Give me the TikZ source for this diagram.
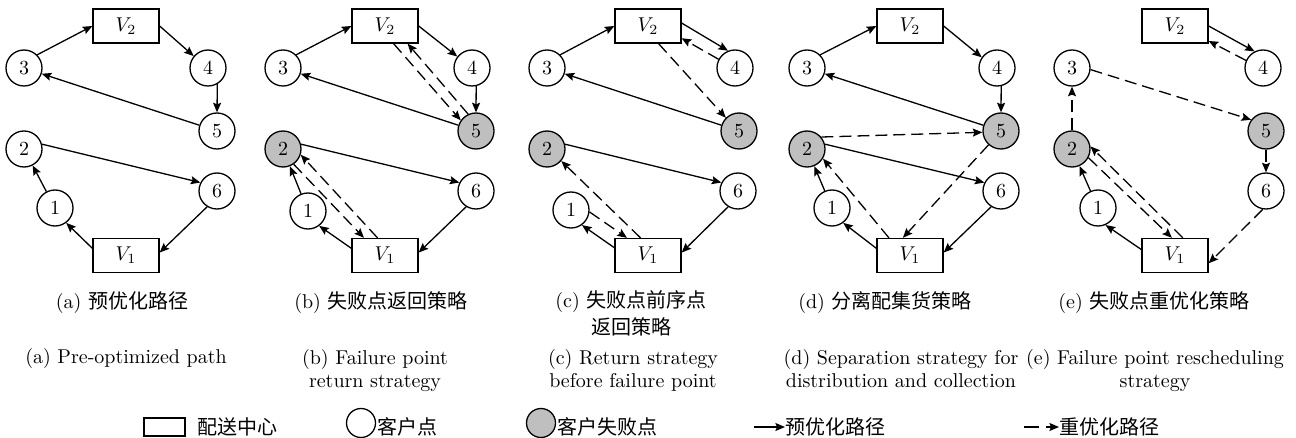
\documentclass[tikz,border=0pt]{standalone}
\usepackage{fontspec}
\newfontfamily\cjkfont{Noto Sans CJK SC}
\newcommand{\zhtext}[1]{{\cjkfont #1}}
\usetikzlibrary{arrows.meta}

\tikzset{
  site/.style={circle, draw, line width=0.65pt, minimum size=18pt, inner sep=0pt,
    fill=white, font=\fontsize{10}{12}\selectfont},
  failed/.style={site, fill=black!25},
  depot/.style={rectangle, draw, line width=0.65pt, minimum width=33pt,
    minimum height=17pt, inner sep=0pt, fill=white},
  pre/.style={line width=0.65pt, -{Stealth[length=4.8pt,width=4pt,inset=0.8pt]}},
  re/.style={pre, dash pattern=on 6pt off 3pt},
  legre/.style={pre, dash pattern=on 7.5pt off 3.5pt},
  capzh/.style={align=center, anchor=base, inner sep=0pt, font=\fontsize{10}{13.5}\selectfont},
  capen/.style={align=center, anchor=base, inner sep=0pt, font=\fontsize{10}{11.5}\selectfont},
  legtext/.style={anchor=west, inner sep=0pt, font=\fontsize{10}{12}\selectfont\cjkfont},
}

\begin{document}
\begin{tikzpicture}[x=0.5pt,y=-0.5pt]
\useasboundingbox (0,0) rectangle (1296,438);

% ---------- (a) pre-optimised route ----------
\begin{scope}[shift={(126,0)}]
  \node[depot] (aV2) at (0,26) {$V_2$};
  \node[depot] (aV1) at (0,255.5) {$V_1$};
  \node[site] (a3) at (-102,68) {3};
  \node[site] (a4) at (82,68) {4};
  \node[site] (a5) at (91,131) {5};
  \node[site] (a2) at (-102,149) {2};
  \node[site] (a6) at (91,191) {6};
  \node[site] (a1) at (-71,208) {1};
  \draw[pre] (a3.45) -- (aV2.west);
  \draw[pre] (aV2.east) -- (a4.140);
  \draw[pre] (a4.-60) -- (a5.north);
  \draw[pre] (a5) -- (a3);
  \draw[pre] (a2.15) -- (a6.153);
  \draw[pre] (a6.-122) -- (aV1.5);
  \draw[pre] (aV1.168) -- (a1.-53);
  \draw[pre] (a1) -- (a2);
\end{scope}

% ---------- (b) return from the failure point ----------
\begin{scope}[shift={(385,0)}]
  \node[depot] (bV2) at (0,26) {$V_2$};
  \node[depot] (bV1) at (0,255.5) {$V_1$};
  \node[site] (b3) at (-102,68) {3};
  \node[site] (b4) at (87,68) {4};
  \node[failed] (b5) at (91,131) {5};
  \node[failed] (b2) at (-102,149) {2};
  \node[site] (b6) at (91,191) {6};
  \node[site] (b1) at (-77,211) {1};
  \draw[pre] (b3.45) -- (bV2.west);
  \draw[pre] (bV2.east) -- (b4.142);
  \draw[pre] (b4.-77) -- (b5.north);
  \draw[pre] (b5) -- (b3);
  \draw[pre] (b2.15) -- (b6.153);
  \draw[pre] (b6.-122) -- (bV1.5);
  \draw[pre] (bV1.168) -- (b1.-53);
  \draw[pre] (b1) -- (b2);
  \draw[re] (bV2.-64) -- (b5.145);
  \draw[re] (b5.115) -- (bV2.-38);
  \draw[re] (b2.-55) -- (bV1.140);
  \draw[re] (bV1.113) -- (b2.-18);
\end{scope}

% ---------- (c) return from the point before the failure ----------
\begin{scope}[shift={(648,0)}]
  \node[depot] (cV2) at (0,26) {$V_2$};
  \node[depot] (cV1) at (0,255.5) {$V_1$};
  \node[site] (c3) at (-101,68) {3};
  \node[site] (c4) at (87,68) {4};
  \node[failed] (c5) at (91,131) {5};
  \node[failed] (c2) at (-101,149) {2};
  \node[site] (c6) at (90,191) {6};
  \node[site] (c1) at (-77,210) {1};
  \draw[pre] (c3.45) -- (cV2.west);
  \draw[pre] (cV2.5) -- (c4.112);
  \draw[pre] (c5) -- (c3);
  \draw[pre] (c2.15) -- (c6.153);
  \draw[pre] (c6.-122) -- (cV1.5);
  \draw[pre] (cV1.167) -- (c1.-54);
  \draw[re] (c4.152) -- (cV2.-20);
  \draw[re] (cV2.-59) -- (c5.135);
  \draw[re] (c1.-6) -- (cV1.140);
  \draw[re] (cV1.113) -- (c2.-40);
\end{scope}

% ---------- (d) separate delivery and pickup ----------
\begin{scope}[shift={(910,0)}]
  \node[depot] (dV2) at (0,26) {$V_2$};
  \node[depot] (dV1) at (0,255.5) {$V_1$};
  \node[site] (d3) at (-103,68) {3};
  \node[site] (d4) at (87,68) {4};
  \node[failed] (d5) at (91,131) {5};
  \node[failed] (d2) at (-103,149) {2};
  \node[site] (d6) at (91,191) {6};
  \node[site] (d1) at (-78,208) {1};
  \draw[pre] (d3.45) -- (dV2.west);
  \draw[pre] (dV2.east) -- (d4.145);
  \draw[pre] (d4.-77) -- (d5.north);
  \draw[pre] (d5) -- (d3);
  \draw[pre] (d2.15) -- (d6.153);
  \draw[pre] (d6.-122) -- (dV1.5);
  \draw[pre] (dV1.168) -- (d1.-53);
  \draw[pre] (d1) -- (d2);
  \draw[re] (d2.40) -- (d5.184);
  \draw[re] (d5.-132) -- (dV1.112);
  \draw[re] (dV1.140) -- (d2.-31);
\end{scope}

% ---------- (e) re-optimisation at the failure point ----------
\begin{scope}[shift={(1175,0)}]
  \node[depot] (eV2) at (0,26) {$V_2$};
  \node[depot] (eV1) at (0,255.5) {$V_1$};
  \node[site] (e3) at (-103,68) {3};
  \node[site] (e4) at (88,68) {4};
  \node[failed] (e5) at (91,131) {5};
  \node[failed] (e2) at (-103,149) {2};
  \node[site] (e6) at (91,191) {6};
  \node[site] (e1) at (-77,208) {1};
  \draw[pre] (eV2.east) -- (e4.117);
  \draw[pre] (eV1.170) -- (e1.-66);
  \draw[pre] (e1) -- (e2);
  \draw[re] (e4.156) -- (eV2.-24);
  \draw[re] (e2.north) -- (e3.south);
  \draw[re] (e3.-5) -- (e5.143);
  \draw[re] (e5.south) -- (e6.north);
  \draw[re] (e6.-100) -- (eV1.-13);
  \draw[re] (e2.-28) -- (eV1.100);
  \draw[re] (eV1.66) -- (e2.8);
\end{scope}

% ---------- captions (base anchor sits on the last line) ----------
\node[capzh] (capza) at (122,308) {(a) \zhtext{预优化路径}};
\node[capzh] (capzb) at (381,308) {(b) \zhtext{失败点返回策略}};
\node[capzh] (capzc) at (631,335) {(c) \zhtext{失败点前序点}\\\zhtext{返回策略}};
\node[capzh] (capzd) at (885,308) {(d) \zhtext{分离配集货策略}};
\node[capzh] (capze) at (1154,308) {(e) \zhtext{失败点重优化策略}};

\node[capen] (capea) at (126,364) {(a) Pre-optimized path};
\node[capen] (capeb) at (375,387) {(b) Failure point\\return strategy};
\node[capen] (capec) at (633,387) {(c) Return strategy\\before failure point};
\node[capen] (caped) at (901,387) {(d) Separation strategy for\\distribution and collection};
\node[capen] (capee) at (1155,387) {(e) Failure point rescheduling\\strategy};

% ---------- legend ----------
\node[depot, minimum width=20.5pt, minimum height=9pt] (lgdepot) at (164.5,427) {};
\node[legtext] (lgdepottext) at (197,427) {配送中心};
\node[site, minimum size=14.5pt] (lgsite) at (361,423) {};
\node[legtext] (lgsitetext) at (377,427) {客户点};
\node[failed, minimum size=14.5pt] (lgfail) at (541,423) {};
\node[legtext] (lgfailtext) at (557,427) {客户失败点};
\coordinate (lgpre) at (754,427);
\node[legtext] (lgpretext) at (785,427) {预优化路径};
\draw[pre] (lgpre) -- (lgpretext.west);
\coordinate (lgre) at (1024,427);
\node[legtext] (lgretext) at (1059,427) {重优化路径};
\draw[legre] (lgre) -- (lgretext.west);
\end{tikzpicture}
\end{document}
